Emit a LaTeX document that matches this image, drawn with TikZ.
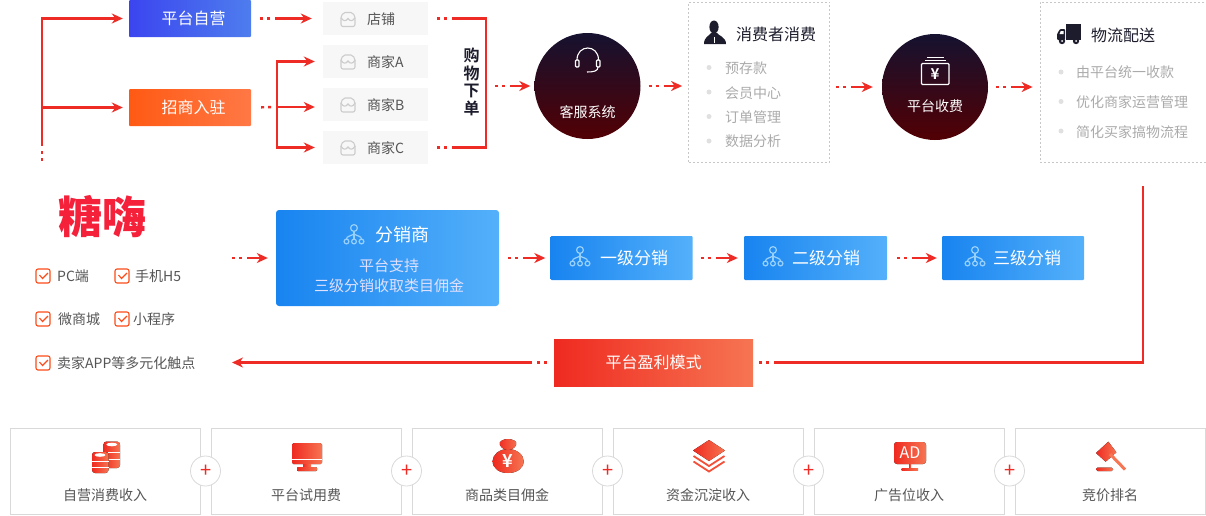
\documentclass[tikz,border=0pt]{standalone}
\usepackage{fontspec}
\setmainfont{Noto Sans CJK SC}[BoldFont={Noto Sans CJK SC Bold}]
\newfontfamily\brandfont{Noto Sans CJK SC Black}
\usepackage{tikz}
\usetikzlibrary{shapes.geometric, arrows.meta}
\definecolor{linered}{HTML}{EE2B24}
\definecolor{indigoleft}{HTML}{3B45EF}
\definecolor{indigoright}{HTML}{4E7DEE}
\definecolor{flameleft}{HTML}{FF5A14}
\definecolor{flameright}{HTML}{FF7845}
\definecolor{blueleft}{HTML}{1884F0}
\definecolor{blueright}{HTML}{54B0FA}
\definecolor{redleft}{HTML}{EF2A20}
\definecolor{redright}{HTML}{F67552}
\definecolor{nightblue}{HTML}{151230}
\definecolor{nightmid}{HTML}{20122A}
\definecolor{nightred}{HTML}{520004}
\definecolor{inkdark}{HTML}{1C1C2C}
\definecolor{softgray}{HTML}{AAAAAA}
\definecolor{labelgray}{HTML}{555555}
\definecolor{brandred}{HTML}{F5203A}
\tikzstyle{arrow} = [line width=2.4pt,linered,-{Stealth[length=11pt,width=10pt,inset=3.5pt]},shorten >=6pt]
\tikzstyle{dotline} = [line width=2.4pt,linered,dash pattern=on 3pt off 4pt on 3pt off 5pt on 900pt off 1pt,shorten <=9pt]
\tikzstyle{dotarrow} = [dotline,-{Stealth[length=11pt,width=10pt,inset=3.5pt]},shorten >=6pt]
\tikzstyle{selfbox} = [rectangle, rounded corners=1pt, inner sep=0pt, minimum width=122pt, minimum height=37pt, left color=indigoleft, right color=indigoright, text=white, font=\fontsize{16}{18}\selectfont]
\tikzstyle{levelbox} = [rectangle, rounded corners=1pt, inner sep=0pt, minimum width=142pt, minimum height=44pt, left color=blueleft, right color=blueright, text=white, font=\fontsize{17}{19}\selectfont]
\tikzstyle{shopbox} = [rectangle, inner sep=0pt, minimum height=33pt, text width=105pt, text height=14pt, text depth=3pt, align=left, fill=black!3, text=labelgray, font=\fontsize{14}{16}\selectfont, execute at begin node=\hspace*{44pt}]
\tikzstyle{night} = [circle, inner sep=0pt, minimum size=106pt, top color=nightblue, middle color=nightmid, bottom color=nightred]
\tikzstyle{nightlabel} = [text=white, inner sep=0pt, font=\fontsize{14}{16}\selectfont]
\tikzstyle{dashbox} = [rectangle, inner sep=0pt, draw=black!22, line width=0.8pt, dash pattern=on 2pt off 2pt]
\tikzstyle{boxtitle} = [anchor=west, inner sep=0pt, text=inkdark, font=\fontsize{16}{18}\selectfont]
\tikzstyle{item} = [anchor=west, inner sep=0pt, text=softgray, font=\fontsize{14}{16}\selectfont]
\tikzstyle{bullet} = [circle, inner sep=0pt, minimum size=5pt, fill=black!12]
\tikzstyle{channel} = [anchor=west, inner sep=0pt, text=labelgray, font=\fontsize{14}{16}\selectfont]
\tikzstyle{incomebox} = [rectangle, inner sep=0pt, minimum width=190pt, minimum height=86pt, draw=black!15, line width=0.8pt]
\tikzstyle{incomelabel} = [inner sep=0pt, text=labelgray, font=\fontsize{14}{16}\selectfont]
\tikzstyle{plusnode} = [circle, inner sep=0pt, minimum size=30pt, draw=black!15, fill=white, text=linered, line width=0.8pt, font=\fontsize{20}{20}\selectfont]
\tikzstyle{redfill} = [left color=redleft, right color=redright, draw=none]
\tikzstyle{orgline} = [line width=1.2pt, blueright!60!white]
\tikzstyle{storeline} = [line width=1.1pt, black!20]
\newcommand{\storeicon}[2]{
  \begin{scope}[shift={(#1,#2)}]
    \draw [storeline, rounded corners=2pt] (-7,-2) -- (-7,7) -- (7,7) -- (7,-2);
    \draw [storeline, rounded corners=2pt] (-7,-2) -- (-5,-7) -- (5,-7) -- (7,-2);
    \draw [storeline] (-7,-2) .. controls (-5,2) and (-2,2) .. (0,-1) .. controls (2,2) and (5,2) .. (7,-2);
  \end{scope}
}
\newcommand{\orgicon}[2]{
  \begin{scope}[shift={(#1,#2)}]
    \draw [orgline] (0,-6) circle (3.4pt);
    \draw [orgline] (-7.5,7.5) circle (2.4pt);
    \draw [orgline] (0,7.5) circle (2.4pt);
    \draw [orgline] (7.5,7.5) circle (2.4pt);
    \draw [orgline] (0,-2.6) -- (0,5.1);
    \draw [orgline] (-7.5,5.1) .. controls (-7.5,2) and (-3,2) .. (0,0) .. controls (3,2) and (7.5,2) .. (7.5,5.1);
  \end{scope}
}
\newcommand{\checkicon}[2]{
  \begin{scope}[shift={(#1,#2)}]
    \draw [line width=1.1pt, flameleft!70!redleft, rounded corners=2pt] (-7,-7) rectangle (7,7);
    \draw [line width=1.1pt, flameleft!70!redleft] (-3.5,-1) -- (-0.5,2.5) -- (5,-3);
  \end{scope}
}
\begin{document}
\begin{tikzpicture}[x=1pt,y=-1pt,node distance=43pt]
  \useasboundingbox (0,0) rectangle (1206,515);

  \node (platform) [selfbox] at (190,18.5) {\hspace*{7pt}平台自营};
  \node (merchant) [selfbox, left color=flameleft, right color=flameright] at (190,107.5) {\hspace*{7pt}招商入驻};
  \node (shop) [shopbox] at (375.5,18.5) {店铺};
  \node (shopa) [shopbox, below of=shop] {商家A};
  \node (shopb) [shopbox, below of=shopa] {商家B};
  \node (shopc) [shopbox, below of=shopb] {商家C};
  \storeicon{348}{19.5}
  \storeicon{348}{62}
  \storeicon{348}{105}
  \storeicon{348}{148}
  \node (order) [inner sep=0pt, align=center, text=inkdark, font=\bfseries\fontsize{16}{17.5}\selectfont] at (471.5,82) {购\\物\\下\\单};

  \coordinate (trunk) at (42,161);
  \coordinate (merchantfork) at (277,107);
  \coordinate (orderfork) at (486,86);
  \draw [dotarrow, shorten <=0pt] (trunk) |- (platform);
  \draw [arrow] (trunk |- merchant) -- (merchant);
  \draw [dotarrow, shorten >=11pt] (platform) -- (shop);
  \draw [dotline, shorten <=10pt] (merchant.east) -- (merchantfork);
  \draw [arrow, shorten >=8pt] (merchantfork) |- (shopa);
  \draw [arrow, shorten >=8pt] (merchantfork) -- (merchantfork -| shopb.west);
  \draw [arrow, shorten >=8pt] (merchantfork) |- (shopc);
  \draw [dotline] (shop.east) -| (orderfork);
  \draw [dotline] (shopc.east) -| (orderfork);

  \node (service) [night] at (587.5,86) {};
  \node (servicetext) [nightlabel] at (587.5,112) {客服系统};
  \draw [line width=1.1pt, white, rounded corners=1pt] (579,67) -- (575.5,67) -- (575.5,60) -- (579,60) -- cycle;
  \draw [line width=1.1pt, white, rounded corners=1pt] (596.5,67) -- (600,67) -- (600,60) -- (596.5,60) -- cycle;
  \draw [line width=1.1pt, white] (577,60) .. controls (577,44) and (598.5,44) .. (598.5,60);
  \draw [line width=1.1pt, white] (598,67) .. controls (598,71) and (594,72) .. (587,72);

  \node (consume) [dashbox, minimum width=141pt, minimum height=160pt] at (759,82) {};
  \fill [inkdark] (714,27) ellipse (4.6pt and 6.5pt);
  \fill [inkdark] (704,44) .. controls (704,37) and (709,36) .. (711,33) -- (717,33) .. controls (719,36) and (726,37) .. (726,44) -- cycle;
  \fill [white] (713.5,37) rectangle (714.5,43);
  \node (consumetitle) [boxtitle] at (736,34) {消费者消费};
  \node (prepaiddot) [bullet] at (709,67.5) {};
  \node (memberdot) [bullet] at (709,92) {};
  \node (orderdot) [bullet] at (709,116.5) {};
  \node (datadot) [bullet] at (709,141) {};
  \node (prepaid) [item] at (725,68) {预存款};
  \node (member) [item] at (725,93) {会员中心};
  \node (ordermgr) [item] at (725,117) {订单管理};
  \node (data) [item] at (725,141) {数据分析};

  \node (fee) [night] at (935,87) {};
  \node (feetext) [nightlabel] at (935,106) {平台收费};
  \draw [line width=1.1pt, white, rounded corners=1pt] (921.5,63.5) rectangle (949,84.5);
  \draw [line width=1.1pt, white] (925,60.5) -- (946,60.5);
  \draw [line width=1.1pt, white] (927,57.5) -- (944,57.5);
  \node (feeyen) [inner sep=0pt, text=white, font=\bfseries\fontsize{15}{15}\selectfont] at (935,74) {¥};

  \node (logistics) [dashbox, minimum width=166pt, minimum height=160pt] at (1123,82) {};
  \fill [inkdark] (1066,23.5) rectangle (1081,40);
  \fill [inkdark, rounded corners=1pt] (1057,40) -- (1057,34) -- (1060,29) -- (1065,29) -- (1065,40) -- cycle;
  \fill [white] (1059.5,34) -- (1060.8,31) -- (1063.5,31) -- (1063.5,34) -- cycle;
  \draw [white, line width=0.8pt] (1058,44) -- (1081,44);
  \fill [inkdark] (1062,41) circle (3.2pt);
  \fill [inkdark] (1076,41) circle (3.2pt);
  \fill [white] (1062,41) circle (1pt);
  \fill [white] (1076,41) circle (1pt);
  \node (logisticstitle) [boxtitle] at (1091,35) {物流配送};
  \node (collectdot) [bullet] at (1061,72) {};
  \node (optimizedot) [bullet] at (1061,101.5) {};
  \node (simplifydot) [bullet] at (1061,131) {};
  \node (collect) [item] at (1076,72) {由平台统一收款};
  \node (optimize) [item] at (1076,102) {优化商家运营管理};
  \node (simplify) [item] at (1076,132) {简化买家搞物流程};

  \draw [dotarrow, shorten >=4pt] (orderfork) -- (service);
  \draw [dotarrow, shorten <=8pt, shorten >=6pt] (service) -- (service -| consume.west);
  \draw [dotarrow, shorten <=6pt, shorten >=9pt] (consume.east |- fee) -- (fee);
  \draw [dotarrow, shorten <=8pt, shorten >=7pt] (fee) -- (fee -| logistics.west);

  \node (brand) [inner sep=0pt, text=brandred, font=\brandfont\fontsize{44}{46}\selectfont] at (102.5,216.5) {糖嗨};
  \checkicon{43}{276}
  \checkicon{122}{276}
  \checkicon{43}{319}
  \checkicon{122}{319}
  \checkicon{43}{363}
  \node (pc) [channel] at (57,276) {PC端};
  \node (mobile) [channel] at (135,276) {手机H5};
  \node (wechat) [channel] at (58,319) {微商城};
  \node (miniapp) [channel] at (133,319) {小程序};
  \node (seller) [channel] at (57,363) {卖家APP等多元化触点};

  \node (distributor) [levelbox, rounded corners=3pt, minimum width=223pt, minimum height=96pt] at (387.5,258) {};
  \orgicon{354}{234}
  \node (distributortitle) [boxtitle, text=white, font=\fontsize{18}{20}\selectfont] at (375,234.5) {分销商};
  \node (distributortext) [inner sep=0pt, align=center, text=white!88!blue, font=\fontsize{15}{20}\selectfont] at (389,276) {平台支持\\三级分销收取类目佣金};
  \node (levelone) [levelbox] at (621.5,258) {\hspace*{25pt}一级分销};
  \node (leveltwo) [levelbox, minimum width=143pt] at (815.5,258) {\hspace*{21pt}二级分销};
  \node (levelthree) [levelbox] at (1013,258) {\hspace*{28pt}三级分销};
  \orgicon{580}{256}
  \orgicon{773}{256}
  \orgicon{975}{256}
  \coordinate (brandout) at (223,258);
  \draw [dotarrow, shorten >=8pt] (brandout) -- (distributor);
  \draw [dotarrow, shorten <=9pt, shorten >=5pt] (distributor.east |- levelone) -- (levelone);
  \draw [dotarrow, shorten <=8pt, shorten >=6pt] (levelone) -- (leveltwo);
  \draw [dotarrow, shorten <=10pt, shorten >=5pt] (leveltwo) -- (levelthree);

  \node (profit) [rectangle, inner sep=0pt, minimum width=199pt, minimum height=47pt, left color=redleft, right color=redright, text=white, font=\fontsize{16}{18}\selectfont] at (653.5,362.5) {平台盈利模式};
  \coordinate (logisticsend) at (1143,186);
  \coordinate (sellerin) at (232,362.5);
  \draw [dotline, shorten <=6pt] (profit.east) -| (logisticsend);
  \draw [dotarrow, shorten <=7pt, shorten >=0pt] (profit.west) -- (sellerin);

  \node (selfincome) [incomebox] at (105,471) {};
  \node (trialfee) [incomebox, right of=selfincome, node distance=201pt] {};
  \node (commission) [incomebox, right of=trialfee, node distance=201pt] {};
  \node (capital) [incomebox, right of=commission, node distance=201pt] {};
  \node (adincome) [incomebox, right of=capital, node distance=201pt] {};
  \node (bidding) [incomebox, right of=adincome, node distance=201pt] {};
  \node (selfincometext) [incomelabel, below of=selfincome, node distance=24pt] {自营消费收入};
  \node (trialfeetext) [incomelabel, below of=trialfee, node distance=24pt] {平台试用费};
  \node (commissiontext) [incomelabel, below of=commission, node distance=24pt] {商品类目佣金};
  \node (capitaltext) [incomelabel, below of=capital, node distance=24pt] {资金沉淀收入};
  \node (adincometext) [incomelabel, below of=adincome, node distance=24pt] {广告位收入};
  \node (biddingtext) [incomelabel, below of=bidding, node distance=24pt] {竞价排名};
  \node (plusa) [plusnode] at (205.5,471) {\hspace*{1.5pt}+};
  \node (plusb) [plusnode] at (406.5,471) {\hspace*{1.5pt}+};
  \node (plusc) [plusnode] at (607.5,471) {\hspace*{1.5pt}+};
  \node (plusd) [plusnode] at (808.5,471) {\hspace*{1.5pt}+};
  \node (pluse) [plusnode] at (1009.5,471) {\hspace*{1.5pt}+};

  \fill [redfill, rounded corners=3pt] (103.5,441.5) rectangle (120,468);
  \fill [white] (111.8,444.5) ellipse (5.5pt and 1.8pt);
  \draw [white, line width=0.7pt] (108,452) -- (120,452);
  \draw [white, line width=0.7pt] (108,459) -- (120,459);
  \fill [redfill, rounded corners=3pt] (92,452) rectangle (108.5,473);
  \fill [white] (100,455) ellipse (5.5pt and 1.8pt);
  \draw [white, line width=0.7pt] (92,461) -- (108.5,461);
  \draw [white, line width=0.7pt] (92,467) -- (108.5,467);

  \fill [redfill, rounded corners=1.5pt] (292,443) rectangle (322,464);
  \draw [white, line width=1.2pt] (292,459.5) -- (322,459.5);
  \fill [redfill] (303,464) rectangle (311,467);
  \fill [redfill, rounded corners=1pt] (297,467) rectangle (317,471);

  \fill [redfill] (508,449) .. controls (517,449) and (523.7,455) .. (523.7,461) .. controls (523.7,469) and (516,473) .. (508,473) .. controls (500,473) and (492.6,469) .. (492.6,461) .. controls (492.6,455) and (499,449) .. (508,449) -- cycle;
  \fill [redfill] (508,439) .. controls (512,439) and (518,441) .. (516,445) .. controls (515,448) and (511,450) .. (508,450) .. controls (505,450) and (501,448) .. (500,445) .. controls (498,441) and (504,439) .. (508,439) -- cycle;
  \node (bagyen) [inner sep=0pt, text=white, font=\bfseries\fontsize{18}{18}\selectfont] at (508,461) {¥};

  \fill [redfill] (709,440) -- (725,450.5) -- (709,461) -- (693,450.5) -- cycle;
  \draw [redleft!50!redright, line width=1.8pt] (693.5,456) -- (709,466) -- (724.5,456);
  \draw [redleft!50!redright, line width=1.8pt] (693.5,461.5) -- (709,471.5) -- (724.5,461.5);

  \fill [redfill, rounded corners=3pt] (894,442) rectangle (926,464);
  \fill [redfill] (909,464) rectangle (911,469);
  \fill [redfill] (901.5,468) rectangle (918,470.5);
  \node (adtext) [inner sep=0pt, text=white, font=\fontsize{16}{16}\selectfont] at (910,453) {AD};

  \fill [redfill] (1108.3,441.7) -- (1116.4,452.3) -- (1105.6,461.7) -- (1096,453) -- cycle;
  \draw [redright, line width=3pt] (1110,454) -- (1125,469.5);
  \fill [redfill, rounded corners=1.5pt] (1096,467.7) rectangle (1113,471);
\end{tikzpicture}
\end{document}
